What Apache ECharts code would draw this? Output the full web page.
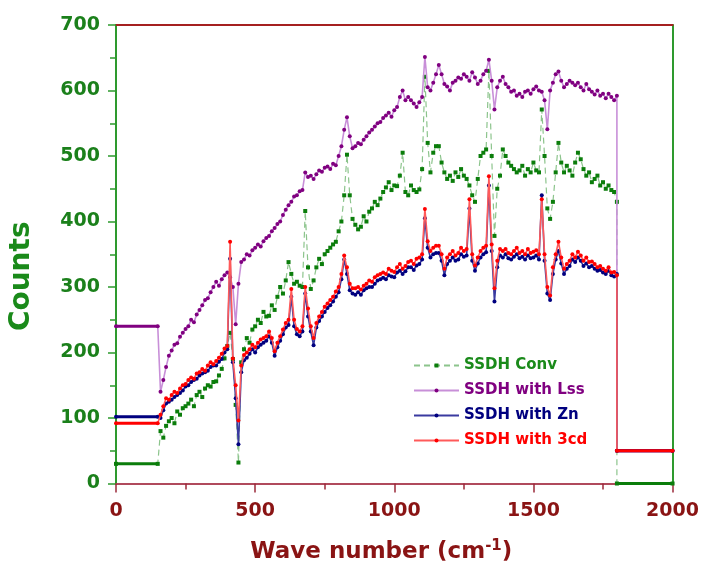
<!DOCTYPE html>
<html>
<head>
<meta charset="utf-8">
<script src="https://cdn.jsdelivr.net/npm/echarts@6/dist/echarts.min.js"></script>
<style>
  html, body { margin: 0; padding: 0; background: #fff; }
  #chart { width: 702px; height: 571px; }
</style>
</head>
<body>
<div id="chart"></div>
<script>
// spectra sampled every 10 cm-1 from 160 to 1800
const waveStart = 160
const waveStep = 10
const convCounts = [
  80, 70, 88, 95, 100, 92, 110, 105, 115, 118,
  122, 128, 118, 135, 140, 132, 145, 150, 148, 155,
  156, 165, 175, 191, 210, 230, 190, 120, 32, 185,
  205, 222, 215, 235, 240, 250, 245, 262, 255, 256,
  272, 265, 285, 300, 290, 310, 338, 320, 305, 308,
  302, 300, 416, 330, 297, 310, 330, 343, 335, 350,
  355, 360, 365, 369, 385, 400, 440, 502, 440, 404,
  395, 388, 392, 408, 400, 415, 420, 430, 425, 435,
  445, 452, 460, 448, 455, 454, 470, 505, 445, 440,
  455, 448, 445, 449, 480, 621, 520, 475, 505, 515,
  515, 490, 475, 465, 470, 462, 475, 468, 480, 470,
  465, 455, 440, 430, 465, 500, 505, 510, 630, 500,
  378, 450, 470, 510, 500, 490, 485, 480, 475, 478,
  485, 470, 480, 475, 490, 478, 475, 571, 500, 420,
  404, 430, 475, 520, 490, 475, 485, 478, 470, 490,
  505, 495, 480, 470, 475, 460, 465, 470, 455, 460,
  450, 455, 448, 445, 430
]
const lssCounts = [
  140, 158, 178, 195, 203, 212, 214, 224, 230, 236,
  240, 250, 246, 258, 265, 272, 280, 283, 292, 300,
  308, 302, 312, 318, 322, 315, 300, 243, 305, 338,
  342, 350, 348, 356, 360, 365, 362, 370, 375, 378,
  385, 390, 396, 400, 410, 418, 425, 430, 438, 440,
  446, 448, 475, 468, 470, 465, 472, 478, 476, 482,
  484, 480, 488, 486, 500, 515, 540, 559, 530, 512,
  515, 520, 518, 525, 530, 536, 540, 545, 550, 552,
  558, 562, 566, 560, 570, 575, 590, 600, 585, 590,
  585, 580, 575, 582, 590, 651, 605, 600, 612, 625,
  639, 625, 610, 606, 600, 612, 615, 620, 618, 625,
  621, 615, 628, 620, 610, 615, 625, 630, 647, 615,
  571, 605, 615, 621, 610, 605, 598, 600, 592, 595,
  590, 598, 600, 595, 602, 606, 600, 598, 585, 541,
  600, 612, 625, 629, 615, 605, 610, 615, 612, 608,
  612, 605, 600, 610, 602, 598, 594, 600, 592, 595,
  588, 595, 590, 585, 592
]
const znCounts = [
  100, 112, 122, 125, 128, 132, 135, 138, 142, 148,
  150, 155, 158, 160, 165, 168, 170, 172, 178, 180,
  180, 186, 190, 200, 205, 343, 185, 130, 60, 170,
  188, 192, 198, 205, 200, 208, 212, 215, 218, 225,
  215, 195, 208, 218, 228, 238, 242, 285, 240, 228,
  225, 232, 290, 255, 232, 211, 238, 248, 255, 262,
  268, 272, 278, 285, 292, 312, 342, 320, 295, 290,
  288, 292, 288, 295, 298, 300, 300, 305, 310, 312,
  314, 312, 318, 316, 315, 322, 325, 320, 324, 330,
  330, 326, 333, 335, 342, 405, 360, 345, 350, 352,
  352, 340, 318, 335, 340, 345, 340, 342, 350, 346,
  348, 420, 340, 325, 336, 345, 350, 353, 455, 355,
  278, 330, 348, 345, 350, 344, 342, 346, 350, 344,
  346, 342, 348, 344, 345, 348, 342, 440, 340, 290,
  280, 320, 342, 355, 336, 320, 328, 332, 342, 338,
  345, 340, 332, 336, 330, 332, 328, 325, 326, 322,
  320, 325, 318, 316, 320
]
const cdCounts = [
  105, 118, 130, 128, 135, 140, 138, 145, 150, 152,
  158, 162, 160, 168, 170, 175, 172, 180, 185, 182,
  187, 192, 198, 206, 210, 369, 191, 150, 96, 180,
  196, 200, 205, 212, 208, 215, 220, 222, 225, 232,
  222, 202, 215, 225, 235, 245, 250, 297, 250, 236,
  232, 240, 300, 267, 240, 222, 245, 255, 262, 270,
  275, 280, 285, 293, 300, 320, 348, 330, 305, 298,
  298, 300, 296, 302, 305, 310, 308, 315, 318, 320,
  322, 320, 328, 325, 323, 330, 335, 328, 332, 338,
  340, 335, 343, 345, 350, 419, 370, 355, 360, 363,
  363, 350, 328, 345, 350, 355, 348, 352, 360, 355,
  358, 434, 350, 333, 345, 355, 360, 363, 469, 365,
  298, 340, 358, 355, 358, 352, 350, 355, 360, 352,
  355, 350, 358, 352, 354, 356, 350, 434, 350, 300,
  287, 330, 350, 369, 345, 328, 335, 340, 350, 345,
  354, 348, 340, 345, 338, 339, 335, 330, 332, 328,
  325, 330, 322, 323, 318
]
// flat levels outside the measured range
const seriesNames = ['SSDH Conv', 'SSDH with Lss', 'SSDH with Zn', 'SSDH with 3cd']
const leftLevels = [30, 240, 102, 92]
const rightLevels = [0, 50, 50, 50]
const edges = [0, 150, 1800, 2000]

const markColors = ['#0b7d0b', '#800080', '#00007f', '#ff0000']
const lineColors = ['#8cc48c', '#c88fd8', '#3a3aa0', '#ff5a5a']
const symbols = ['rect', 'circle', 'circle', 'circle']
const allCounts = [convCounts, lssCounts, znCounts, cdCounts]

const font = 'DejaVu Sans'
const green = '#1b801b'
const maroon = '#8a1414'

function buildSeries(i) {
  const data = [[edges[0], leftLevels[i]], [edges[1], leftLevels[i]]]
  allCounts[i].forEach((v, k) => data.push([waveStart + k * waveStep, v]))
  data.push([edges[2], rightLevels[i]], [edges[3], rightLevels[i]])
  return {
    name: seriesNames[i],
    type: 'line',
    data: data,
    symbol: symbols[i],
    symbolSize: i === 0 ? 4 : 4,
    showAllSymbol: true,
    animation: false,
    itemStyle: { color: markColors[i] },
    lineStyle: { color: lineColors[i], width: i === 0 ? 1.2 : 1.6, type: i === 0 ? [6, 4] : 'solid' },
    z: 2 + i
  }
}

function buildFlat(i) {
  return {
    name: 'flat' + i,
    type: 'line',
    silent: true,
    symbol: 'none',
    animation: false,
    data: [
      [edges[0], leftLevels[i]], [edges[1], leftLevels[i]], '-',
      [edges[2], rightLevels[i]], [edges[3], rightLevels[i]]
    ],
    connectNulls: false,
    lineStyle: { color: markColors[i], width: 3 },
    z: 2 + i
  }
}

const series = []
for (let i = 0; i < 4; i++) {
  series.push(buildSeries(i))
  series.push(buildFlat(i))
}

const plainLabel = v => String(v)

const chart = echarts.init(document.getElementById('chart'))
chart.setOption({
  backgroundColor: '#fff',
  grid: { left: 116, right: 27, top: 25, bottom: 85 },
  legend: {
    orient: 'vertical',
    left: 408,
    top: 352,
    itemWidth: 45,
    itemHeight: 5,
    itemGap: 8,
    textStyle: { fontFamily: font, fontWeight: 'bold', fontSize: 15, lineHeight: 17 },
    data: seriesNames.map((n, i) => ({ name: n, textStyle: { color: i === 0 ? '#1a8a1a' : markColors[i] } }))
  },
  xAxis: [{
    type: 'value',
    min: 0,
    max: 2000,
    interval: 500,
    name: '{a|Wave number (cm}{s|-1}{a|)}',
    nameLocation: 'middle',
    nameGap: 54,
    nameTextStyle: {
      padding: [0, 26, 0, 0],
      rich: {
        a: { fontFamily: font, fontWeight: 'bold', fontSize: 23, color: maroon, lineHeight: 30 },
        s: { fontFamily: font, fontWeight: 'bold', fontSize: 15, color: maroon, padding: [0, 0, 12, 0], lineHeight: 30 }
      }
    },
    splitLine: { show: false },
    axisLine: { lineStyle: { color: '#b04a5c', width: 2 } },
    axisTick: { inside: false, length: 9, lineStyle: { color: '#9a2a3a', width: 1.5 } },
    minorTick: { show: true, splitNumber: 2, length: 6, lineStyle: { color: '#9a2a3a', width: 1.5 } },
    axisLabel: { margin: 18, fontFamily: font, fontWeight: 'bold', fontSize: 19, color: maroon, formatter: plainLabel }
  }, {
    type: 'value',
    position: 'top',
    min: 0,
    max: 2000,
    axisLine: { show: true, onZero: false, lineStyle: { color: '#a52020', width: 2 } },
    axisTick: { show: false },
    axisLabel: { show: false },
    splitLine: { show: false }
  }],
  yAxis: [{
    type: 'value',
    min: 0,
    max: 700,
    interval: 100,
    name: 'Counts',
    nameLocation: 'middle',
    nameRotate: 90,
    nameGap: 80,
    nameTextStyle: { fontFamily: font, fontWeight: 'bold', fontSize: 28, color: '#1a8a1a', padding: [0, 44, 0, 0] },
    splitLine: { show: false },
    axisLine: { show: true, lineStyle: { color: '#2e9a2e', width: 2 } },
    axisTick: { inside: false, length: 8, lineStyle: { color: '#2e9a2e', width: 1.5 } },
    minorTick: { show: true, splitNumber: 2, length: 6, lineStyle: { color: '#2e9a2e', width: 1.5 } },
    axisLabel: { margin: 16, fontFamily: font, fontWeight: 'bold', fontSize: 19, color: green, formatter: plainLabel }
  }, {
    type: 'value',
    position: 'right',
    min: 0,
    max: 700,
    axisLine: { show: true, onZero: false, lineStyle: { color: '#2e9a2e', width: 2 } },
    axisTick: { show: false },
    axisLabel: { show: false },
    splitLine: { show: false }
  }],
  series: series
})
</script>
</body>
</html>
